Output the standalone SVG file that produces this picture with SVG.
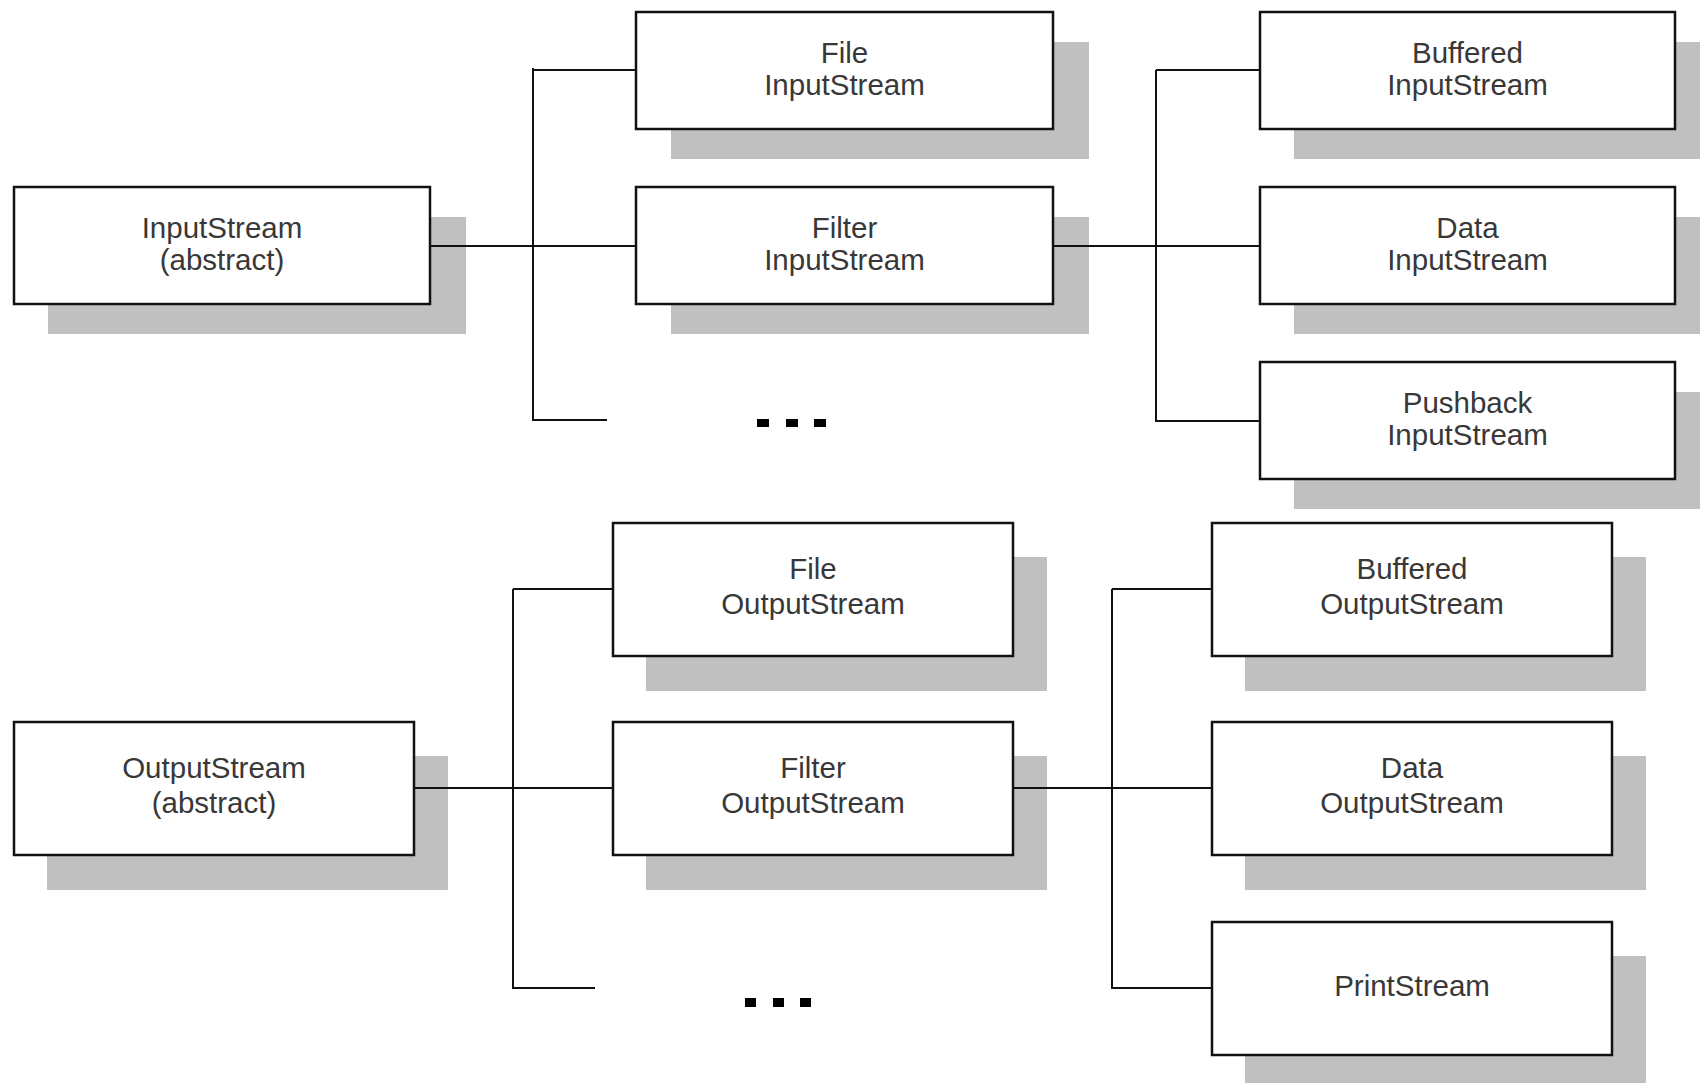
<svg xmlns="http://www.w3.org/2000/svg" width="1700" height="1083" viewBox="0 0 1700 1083">
<style>
.sh{fill:#c0c0c0}
.bx{fill:#fff;stroke:#111;stroke-width:2.5}
.t{font-family:"Liberation Sans",Arial,sans-serif;fill:#383838;text-anchor:middle}
.tt{font-size:29.5px}
.tb{font-size:29.5px}
.c{fill:none;stroke:#111;stroke-width:2}
.d{fill:#000}
</style>
<rect width="1700" height="1083" fill="#fff"/>
<g id="node-inputstream">
<rect class="sh" x="48" y="217" width="418" height="117"/>
<rect class="bx" x="14" y="187" width="416" height="117"/>
<text class="t tt" x="222" y="237.5">InputStream</text>
<text class="t tt" x="222" y="269.5">(abstract)</text>
</g>
<g id="node-fileinputstream">
<rect class="sh" x="671" y="42" width="418" height="117"/>
<rect class="bx" x="636" y="12" width="417" height="117"/>
<text class="t tt" x="844.5" y="62.5">File</text>
<text class="t tt" x="844.5" y="94.5">InputStream</text>
</g>
<g id="node-filterinputstream">
<rect class="sh" x="671" y="217" width="418" height="117"/>
<rect class="bx" x="636" y="187" width="417" height="117"/>
<text class="t tt" x="844.5" y="237.5">Filter</text>
<text class="t tt" x="844.5" y="269.5">InputStream</text>
</g>
<g id="node-bufferedinputstream">
<rect class="sh" x="1294" y="42" width="418" height="117"/>
<rect class="bx" x="1260" y="12" width="415" height="117"/>
<text class="t tt" x="1467.5" y="62.5">Buffered</text>
<text class="t tt" x="1467.5" y="94.5">InputStream</text>
</g>
<g id="node-datainputstream">
<rect class="sh" x="1294" y="217" width="418" height="117"/>
<rect class="bx" x="1260" y="187" width="415" height="117"/>
<text class="t tt" x="1467.5" y="237.5">Data</text>
<text class="t tt" x="1467.5" y="269.5">InputStream</text>
</g>
<g id="node-pushbackinputstream">
<rect class="sh" x="1294" y="392" width="418" height="117"/>
<rect class="bx" x="1260" y="362" width="415" height="117"/>
<text class="t tt" x="1467.5" y="412.5">Pushback</text>
<text class="t tt" x="1467.5" y="444.5">InputStream</text>
</g>
<g id="node-outputstream">
<rect class="sh" x="47" y="756" width="401" height="134"/>
<rect class="bx" x="14" y="722" width="400" height="133"/>
<text class="t tb" x="214" y="778">OutputStream</text>
<text class="t tb" x="214" y="813">(abstract)</text>
</g>
<g id="node-fileoutputstream">
<rect class="sh" x="646" y="557" width="401" height="134"/>
<rect class="bx" x="613" y="523" width="400" height="133"/>
<text class="t tb" x="813" y="579">File</text>
<text class="t tb" x="813" y="614">OutputStream</text>
</g>
<g id="node-filteroutputstream">
<rect class="sh" x="646" y="756" width="401" height="134"/>
<rect class="bx" x="613" y="722" width="400" height="133"/>
<text class="t tb" x="813" y="778">Filter</text>
<text class="t tb" x="813" y="813">OutputStream</text>
</g>
<g id="node-bufferedoutputstream">
<rect class="sh" x="1245" y="557" width="401" height="134"/>
<rect class="bx" x="1212" y="523" width="400" height="133"/>
<text class="t tb" x="1412" y="579">Buffered</text>
<text class="t tb" x="1412" y="614">OutputStream</text>
</g>
<g id="node-dataoutputstream">
<rect class="sh" x="1245" y="756" width="401" height="134"/>
<rect class="bx" x="1212" y="722" width="400" height="133"/>
<text class="t tb" x="1412" y="778">Data</text>
<text class="t tb" x="1412" y="813">OutputStream</text>
</g>
<g id="node-printstream">
<rect class="sh" x="1245" y="956" width="401" height="134"/>
<rect class="bx" x="1212" y="922" width="400" height="133"/>
<text class="t tb" x="1412" y="996">PrintStream</text>
</g>
<g id="connectors">
<path class="c" d="M533,68 V420 H607"/>
<path class="c" d="M533,70 H636"/>
<path class="c" d="M430,246 H636"/>
<path class="c" d="M1156,70 V421 H1260"/>
<path class="c" d="M1156,70 H1260"/>
<path class="c" d="M1053,246 H1260"/>
<path class="c" d="M513,589 V988 H595"/>
<path class="c" d="M513,589 H613"/>
<path class="c" d="M414,788 H613"/>
<path class="c" d="M1112,589 V988 H1212"/>
<path class="c" d="M1112,589 H1212"/>
<path class="c" d="M1013,788 H1212"/>
</g>
<g id="ellipsis-top">
<rect class="d" x="757" y="419" width="12" height="8"/>
<rect class="d" x="786" y="419" width="12" height="8"/>
<rect class="d" x="814" y="419" width="12" height="8"/>
</g>
<g id="ellipsis-bottom">
<rect class="d" x="745" y="998" width="11" height="9"/>
<rect class="d" x="773" y="998" width="11" height="9"/>
<rect class="d" x="800" y="998" width="11" height="9"/>
</g>
</svg>
